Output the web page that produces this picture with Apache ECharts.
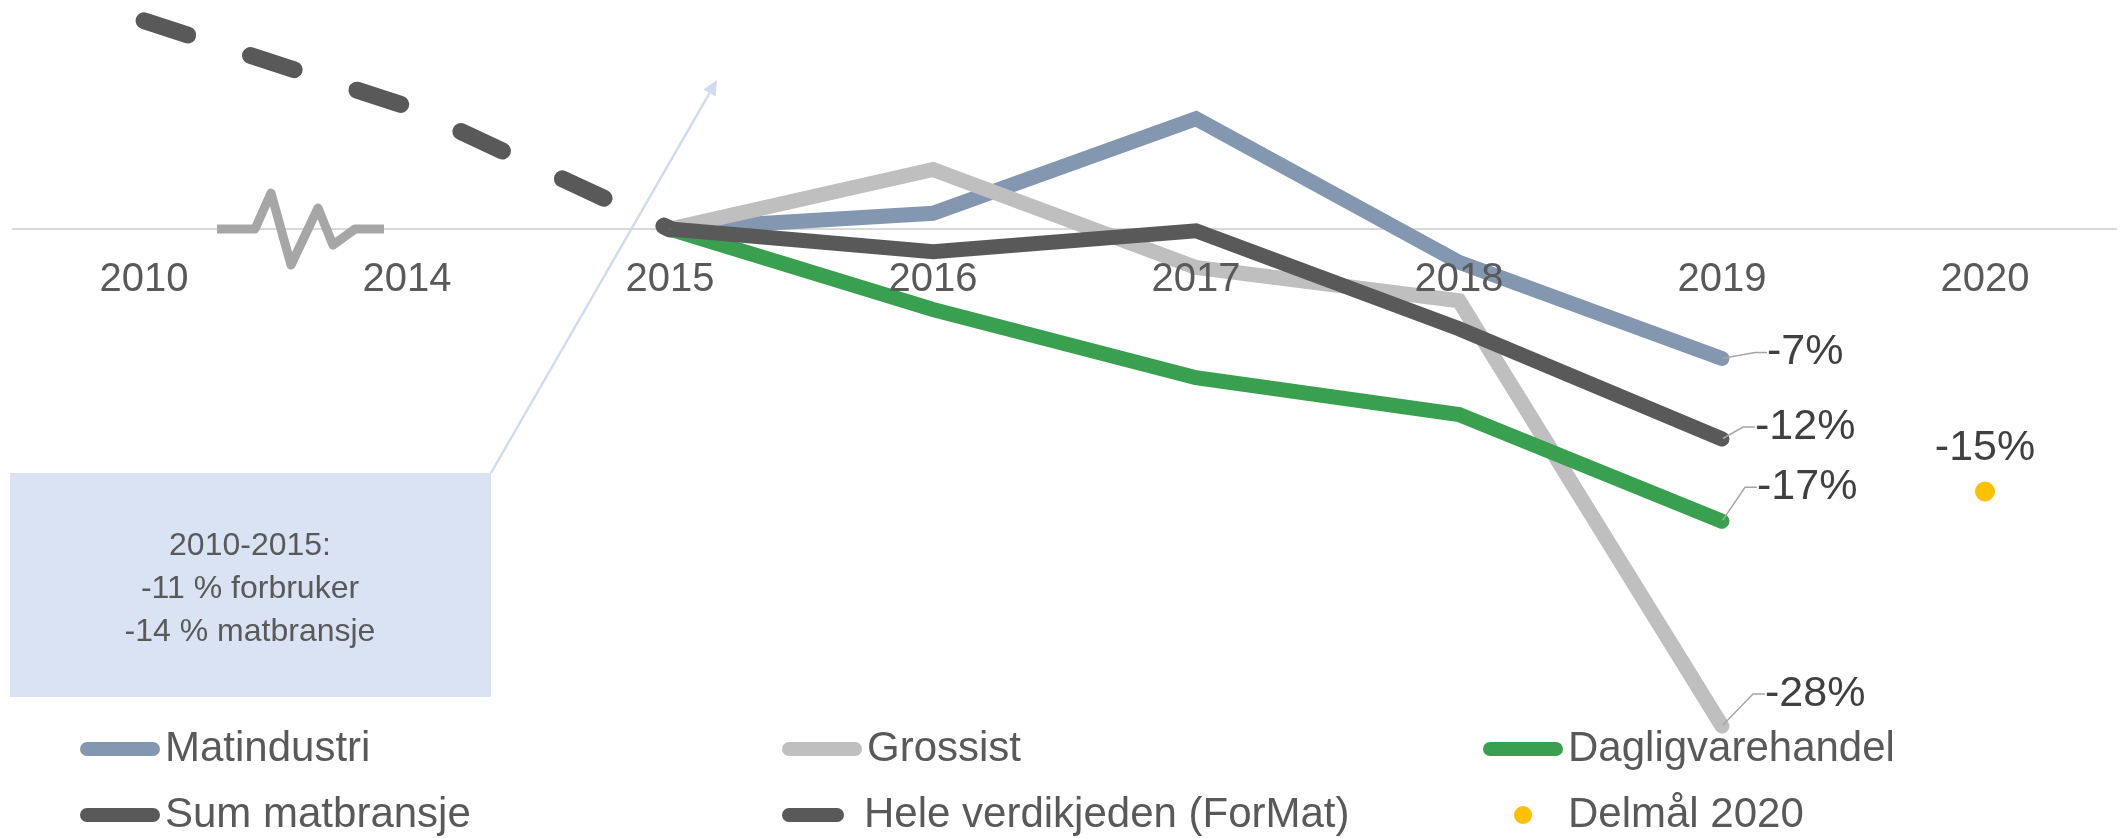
<!DOCTYPE html>
<html>
<head>
<meta charset="utf-8">
<style>
  html, body { margin: 0; padding: 0; background: #fff; }
  #chart { width: 2123px; height: 838px; }
</style>
<script src="https://cdn.jsdelivr.net/npm/echarts@6/dist/echarts.min.js"></script>
</head>
<body>
<div id="chart"></div>
<script>
// data (percent change vs 2015)
const years = ['2010', '2014', '2015', '2016', '2017', '2018', '2019', '2020'];
const matindustri = [null, null, 0, 0.9, 6.3, -1.9, -7.4, null];
const grossist = [null, null, 0, 3.4, -2.2, -4.1, -28.4, null];
const dagligvare = [null, null, 0, -4.6, -8.5, -10.6, -16.7, null];
const sumMatbransje = [null, null, 0, -1.3, -0.1, -5.7, -12.0, null];
const heleVerdikjeden = [11.9, 7.0, 0, null, null, null, null, null];
const delmaal = [null, null, null, null, null, null, null, -15];
const noteLines = ['2010-2015:', '-11 % forbruker', '-14 % matbransje'];

const FONT = '"Liberation Sans", Arial, sans-serif';
const pill80 = 'path://M7 0H73A7 7 0 0 1 73 14H7A7 7 0 0 1 7 0Z';
const pill62 = 'path://M7 0H55A7 7 0 0 1 55 14H7A7 7 0 0 1 7 0Z';

function lastIndex(values) {
  for (let i = values.length - 1; i >= 0; i--) if (values[i] != null) return i;
  return -1;
}

// solid line with a label (and leader line) on its last point
function endLabelLine(name, values, color, dx, dy) {
  const last = lastIndex(values);
  return {
    name: name,
    type: 'line',
    color: color,
    data: values.map((v, i) => i === last ? { value: v, label: { show: true } } : v),
    symbol: 'circle',
    symbolSize: 2,
    showSymbol: true,
    itemStyle: { color: color },
    lineStyle: { width: 15, color: color, cap: 'round', join: 'miter' },
    label: {
      show: false,
      position: 'right',
      distance: 5,
      padding: [0, 0, 0, 8],
      fontSize: 43,
      fontFamily: FONT,
      color: '#404040',
      formatter: p => Math.round(p.value) + '%'
    },
    labelLine: { show: true, length2: 12, lineStyle: { color: '#A6A6A6', width: 1.5 } },
    labelLayout: { dx: dx, dy: dy }
  };
}

function legendItem(name, icon, left, top, extra) {
  return Object.assign({
    data: [{ name: name, icon: icon }],
    left: left,
    top: top,
    padding: 0,
    itemWidth: 80,
    itemHeight: 14,
    selectedMode: false,
    textStyle: { fontSize: 42, color: '#595959', fontFamily: FONT }
  }, extra || {});
}

const axisBase = {
  type: 'category',
  data: years,
  boundaryGap: true,
  position: 'bottom',
  axisTick: { show: false },
  splitLine: { show: false }
};

const option = {
  animation: false,
  textStyle: { fontFamily: FONT },
  grid: [
    { left: 12.5, right: 6.5, top: 1.5, bottom: 84, outerBoundsMode: 'none' },
    // label grid: same width, bottom edge on the zero line, draws the years over the lines
    { left: 12.5, right: 6.5, top: 1.5, bottom: 609, outerBoundsMode: 'none' }
  ],
  xAxis: [
    Object.assign({}, axisBase, {
      gridIndex: 0,
      z: 0,
      axisLine: { show: true, onZero: true, lineStyle: { color: '#D9D9D9', width: 2 } },
      axisLabel: { show: false }
    }),
    Object.assign({}, axisBase, {
      gridIndex: 1,
      z: 10,
      axisLine: { show: false, onZero: false },
      axisLabel: { show: true, interval: 0, margin: 31, fontSize: 40, color: '#595959', fontFamily: FONT }
    })
  ],
  yAxis: [
    { gridIndex: 0, type: 'value', min: -30, max: 13, show: false },
    { gridIndex: 1, type: 'value', min: 0, max: 13, show: false }
  ],
  legend: [
    legendItem('Matindustri', pill80, 80, 728),
    legendItem('Grossist', pill80, 782, 728),
    legendItem('Dagligvarehandel', pill80, 1483, 728),
    legendItem('Sum matbransje', pill80, 80, 794),
    legendItem('Hele verdikjeden (ForMat)', pill62, 782, 794, {
      itemWidth: 62,
      textStyle: { fontSize: 42, color: '#595959', fontFamily: FONT, padding: [0, 0, 0, 15] }
    }),
    // the legend box starts at the dot, so shift by half the free icon width
    legendItem('Delmål 2020', 'circle', 1483 + 31, 794, { itemHeight: 18 })
  ],
  series: [
    endLabelLine('Matindustri', matindustri, '#8497B0', 31, -6),
    endLabelLine('Grossist', grossist, '#BFBFBF', 29, -32),
    endLabelLine('Dagligvarehandel', dagligvare, '#38A04E', 21, -34),
    endLabelLine('Sum matbransje', sumMatbransje, '#595959', 19, -12),
    {
      name: 'Hele verdikjeden (ForMat)',
      type: 'line',
      color: '#595959',
      data: heleVerdikjeden,
      showSymbol: false,
      symbol: 'none',
      itemStyle: { color: '#595959' },
      lineStyle: { width: 17, color: '#595959', type: [46, 66], cap: 'round', join: 'round' }
    },
    {
      name: 'Delmål 2020',
      type: 'scatter',
      color: '#FFC000',
      data: delmaal,
      symbolSize: 20,
      itemStyle: { color: '#FFC000', opacity: 1 },
      label: {
        show: true,
        position: 'top',
        distance: 12,
        fontSize: 43,
        fontFamily: FONT,
        color: '#404040',
        formatter: p => Math.round(Array.isArray(p.value) ? p.value[1] : p.value) + '%'
      }
    }
  ]
};

const chart = echarts.init(document.getElementById('chart'));
chart.setOption(option);

// axis-break mark between 2010 and 2014, note box and arrow
const xa = chart.convertToPixel({ xAxisIndex: 0 }, '2010');
const xb = chart.convertToPixel({ xAxisIndex: 0 }, '2014');
const y0 = chart.convertToPixel({ yAxisIndex: 0 }, 0);
const mx = (xa + xb) / 2;
const zig = [[-58.5, 0], [-20.5, 0], [-4.5, -36], [15.5, 36], [42.5, -21], [57.5, 16], [79.5, 0], [108.5, 0]];

const arrowFrom = [491, 473], arrowTip = [717, 80];
const len = Math.hypot(arrowTip[0] - arrowFrom[0], arrowTip[1] - arrowFrom[1]);
const d = [(arrowTip[0] - arrowFrom[0]) / len, (arrowTip[1] - arrowFrom[1]) / len];
const n = [-d[1], d[0]];
const base = [arrowTip[0] - 15 * d[0], arrowTip[1] - 15 * d[1]];

chart.setOption({
  graphic: [
    {
      type: 'polyline',
      z: 100,
      shape: { points: zig.map(p => [mx + p[0], y0 + p[1]]) },
      style: { stroke: '#A6A6A6', lineWidth: 9, lineJoin: 'round', lineCap: 'butt', fill: null }
    },
    {
      type: 'rect',
      z: 1,
      shape: { x: 10, y: 473, width: 481, height: 224 },
      style: { fill: '#DAE3F3' }
    },
    {
      type: 'text',
      z: 2,
      style: {
        text: noteLines.join('\n'),
        x: 250,
        y: 589,
        align: 'center',
        verticalAlign: 'middle',
        fontSize: 32,
        lineHeight: 43,
        fontFamily: FONT,
        fill: '#595959'
      }
    },
    {
      type: 'line',
      z: 1,
      shape: { x1: arrowFrom[0], y1: arrowFrom[1], x2: base[0], y2: base[1] },
      style: { stroke: '#D0DBF0', lineWidth: 2.5 }
    },
    {
      type: 'polygon',
      z: 1,
      shape: {
        points: [
          arrowTip,
          [base[0] + 7 * n[0], base[1] + 7 * n[1]],
          [base[0] - 7 * n[0], base[1] - 7 * n[1]]
        ]
      },
      style: { fill: '#D0DBF0' }
    }
  ]
});
</script>
</body>
</html>
